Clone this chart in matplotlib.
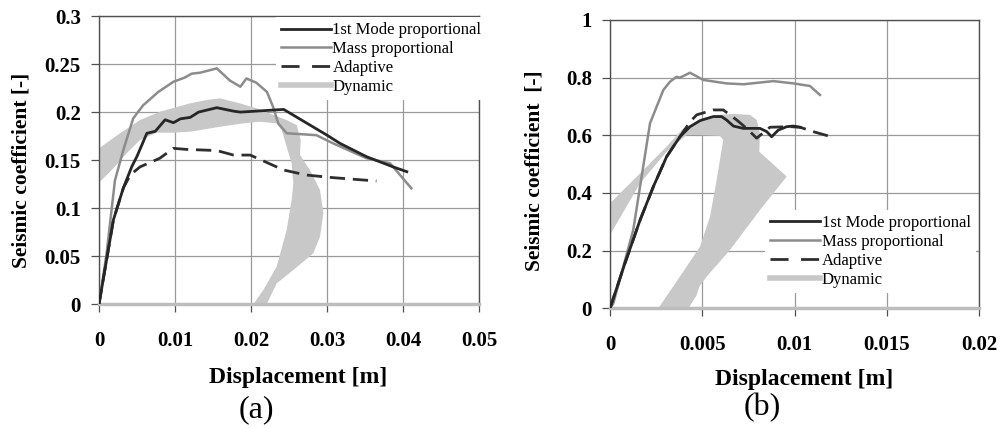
import numpy as np
import matplotlib
matplotlib.use('Agg')
import matplotlib.pyplot as plt

plt.rcParams['font.family'] = ['Liberation Serif', 'DejaVu Serif']

# ---- panel (a) data ----
mode_a_x = [0, 0.0019, 0.0032, 0.0043, 0.0050, 0.0063, 0.0074, 0.0087, 0.0098, 0.0107,
            0.0120, 0.0131, 0.0155, 0.0177, 0.0186, 0.0243, 0.0300, 0.0317, 0.0352, 0.0387, 0.0405]
mode_a_y = [0, 0.088, 0.121, 0.143, 0.154, 0.178, 0.180, 0.192, 0.189, 0.193,
            0.1945, 0.200, 0.2046, 0.201, 0.200, 0.2028, 0.176, 0.1675, 0.1536, 0.143, 0.138]

mass_a_x = [0, 0.0010, 0.0021, 0.0032, 0.0045, 0.0058, 0.0078, 0.0098, 0.0113, 0.0122, 0.0133,
            0.0155, 0.0172, 0.0186, 0.0194, 0.0207, 0.0221, 0.0229, 0.0236, 0.0247, 0.0286,
            0.0308, 0.0352, 0.0383, 0.0411]
mass_a_y = [0, 0.053, 0.129, 0.1605, 0.1935, 0.207, 0.221, 0.2316, 0.236, 0.240, 0.241,
            0.2455, 0.233, 0.2264, 0.235, 0.2306, 0.221, 0.2056, 0.188, 0.178, 0.176,
            0.1675, 0.152, 0.1467, 0.1207]

adapt_a_x = [0, 0.0019, 0.0032, 0.0041, 0.0054, 0.0080, 0.0098, 0.0115, 0.0155, 0.0177,
             0.0199, 0.0243, 0.0273, 0.0308, 0.0365]
adapt_a_y = [0, 0.088, 0.121, 0.1345, 0.143, 0.152, 0.1623, 0.1612, 0.160, 0.1553,
             0.1553, 0.1397, 0.1345, 0.1318, 0.1283]

dyn_a_x = [0, 0.00276, 0.00539, 0.00803, 0.01197, 0.01417, 0.01592, 0.01855, 0.02075, 0.02294,
           0.02469, 0.02601, 0.02654, 0.02645, 0.02776, 0.02908, 0.02952, 0.02908, 0.02820, 0.02557,
           0.02338, 0.02206,
           0.02031, 0.02162, 0.02338, 0.02469, 0.02535, 0.02557, 0.02535, 0.02469, 0.02404, 0.02338,
           0.02118, 0.01899, 0.01592, 0.01417, 0.01197, 0.00978, 0.00759, 0.00539, 0.00364, 0.00189, 0]
dyn_a_y = [0.1623, 0.1779, 0.1917, 0.2004, 0.2091, 0.2126, 0.2143, 0.2091, 0.2039, 0.1970,
           0.1917, 0.1865, 0.1709, 0.1553, 0.1397, 0.1189, 0.0947, 0.0704, 0.0531, 0.0357,
           0.0218, 0,
           0, 0.0149, 0.0392, 0.0773, 0.1085, 0.1259, 0.1467, 0.1640, 0.1813, 0.1883,
           0.1900, 0.1883, 0.1848, 0.1824, 0.1796, 0.1786, 0.1786, 0.1709, 0.1571, 0.1415, 0.1266]

# ---- panel (b) data ----
mode_b_x = [0, 0.00081, 0.00163, 0.00235, 0.00307, 0.00379, 0.00434, 0.00488, 0.00560, 0.00605,
            0.00632, 0.00669, 0.00723, 0.00813, 0.00849, 0.00876, 0.00912, 0.00958, 0.00994, 0.0103]
mode_b_y = [0, 0.156, 0.306, 0.422, 0.526, 0.595, 0.630, 0.651, 0.665, 0.665,
            0.653, 0.632, 0.624, 0.624, 0.613, 0.595, 0.618, 0.630, 0.632, 0.628]

mass_b_x = [0, 0.00018, 0.00126, 0.00217, 0.00289, 0.00325, 0.00361, 0.00379, 0.00434, 0.00506,
            0.00632, 0.00723, 0.00885, 0.00994, 0.01084, 0.01138]
mass_b_y = [0, 0.017, 0.272, 0.642, 0.757, 0.786, 0.803, 0.800, 0.817, 0.792,
            0.780, 0.777, 0.788, 0.780, 0.771, 0.740]

adapt_b_x = [0, 0.00081, 0.00163, 0.00235, 0.00307, 0.00379, 0.00434, 0.0047, 0.0056, 0.00614,
             0.00687, 0.00741, 0.00795, 0.00867, 0.00976, 0.0103, 0.0110, 0.0121]
adapt_b_y = [0, 0.156, 0.306, 0.422, 0.526, 0.595, 0.647, 0.671, 0.688, 0.688,
             0.653, 0.624, 0.590, 0.628, 0.630, 0.628, 0.613, 0.593]

dyn_b_x = [0, 0.00163, 0.00307, 0.00397, 0.00488, 0.00578, 0.00668, 0.00759, 0.00795, 0.00813,
           0.00809, 0.00849, 0.00958, 0.00813, 0.00650, 0.00524, 0.00484, 0.0047, 0.00425, 0.00262,
           0.00379, 0.00488, 0.00542, 0.00578, 0.00605, 0.00614, 0.00596, 0.00488, 0.00416, 0.00307,
           0.00163, 0]
dyn_b_y = [0.364, 0.468, 0.561, 0.624, 0.651, 0.671, 0.674, 0.671, 0.653, 0.607,
           0.543, 0.520, 0.457, 0.341, 0.202, 0.110, 0.075, 0.046, 0, 0,
           0.110, 0.214, 0.318, 0.445, 0.549, 0.584, 0.598, 0.601, 0.601, 0.543,
           0.434, 0.254]

xticks_a = [0, 0.01, 0.02, 0.03, 0.04, 0.05]
xlabels_a = ['0', '0.01', '0.02', '0.03', '0.04', '0.05']
yticks_a = [0, 0.05, 0.1, 0.15, 0.2, 0.25, 0.3]
ylabels_a = ['0', '0.05', '0.1', '0.15', '0.2', '0.25', '0.3']
xticks_b = [0, 0.005, 0.01, 0.015, 0.02]
xlabels_b = ['0', '0.005', '0.01', '0.015', '0.02']
yticks_b = [0, 0.2, 0.4, 0.6, 0.8, 1.0]
ylabels_b = ['0', '0.2', '0.4', '0.6', '0.8', '1']

c_mode = '#262626'
c_mass = '#8c8c8c'
c_adapt = '#2e2e2e'
c_dyn = '#c8c8c8'


def draw_panel(ax, dyn_x, dyn_y, mode, mass, adapt, xt, xl, yt, yl):
    ax.fill(dyn_x, dyn_y, color=c_dyn, lw=0, zorder=2)
    ax.plot(mode[0], mode[1], color=c_mode, lw=2, zorder=5, label='1st Mode proportional')
    ax.plot(mass[0], mass[1], color=c_mass, lw=1.8, zorder=4, label='Mass proportional')
    ax.plot(adapt[0], adapt[1], color=c_adapt, lw=2, dashes=(5.5, 2.8), zorder=4)
    # legend-only handles (longer dashes in the key, as in the original)
    ax.plot([], [], color=c_adapt, lw=2, dashes=(6.5, 4.5), label='Adaptive')
    ax.plot([], [], color=c_dyn, lw=4, label='Dynamic')
    ax.set_xlim(xt[0], xt[-1])
    ax.set_ylim(yt[0], yt[-1])
    ax.set_xticks(xt)
    ax.set_xticklabels(xl)
    ax.set_yticks(yt)
    ax.set_yticklabels(yl)
    ax.grid(True, color='#9a9a9a', lw=0.9)
    ax.set_axisbelow(True)
    for s in ax.spines.values():
        s.set_color('#505050')
        s.set_linewidth(1.0)
    ax.spines['bottom'].set_color('#bdbdbd')
    ax.spines['bottom'].set_linewidth(2.5)
    ax.tick_params(axis='x', length=6, width=0.9, color='#505050', pad=13,
                   labelsize=15)
    ax.tick_params(axis='y', length=6, width=0.9, color='#505050', pad=7,
                   labelsize=15)
    for lab in ax.get_xticklabels() + ax.get_yticklabels():
        lab.set_fontweight('bold')


fig = plt.figure(figsize=(10, 4.28), dpi=100)
ax1 = fig.add_axes([0.099, 0.289, 0.380, 0.6736])
ax2 = fig.add_axes([0.610, 0.2797, 0.369, 0.6736])

draw_panel(ax1, dyn_a_x, dyn_a_y, (mode_a_x, mode_a_y), (mass_a_x, mass_a_y),
           (adapt_a_x, adapt_a_y), xticks_a, xlabels_a, yticks_a, ylabels_a)
draw_panel(ax2, dyn_b_x, dyn_b_y, (mode_b_x, mode_b_y), (mass_b_x, mass_b_y),
           (adapt_b_x, adapt_b_y), xticks_b, xlabels_b, yticks_b, ylabels_b)

leg_kw = dict(fontsize=12, handlelength=3.0, handletextpad=0.1, labelspacing=0.17,
              borderpad=0.3, borderaxespad=0, frameon=True, fancybox=False,
              facecolor='white', edgecolor='none', framealpha=1)
l1 = ax1.legend(loc='upper left', bbox_to_anchor=(0.465, 0.995), **leg_kw)
l2 = ax2.legend(loc='upper left', bbox_to_anchor=(0.42, 0.34), **leg_kw)
for lg in (l1, l2):
    lg.set_zorder(6)

fig.text(0.022, 1 - 170 / 428, 'Seismic coefficient [-]', rotation=90, ha='center',
         va='center', fontsize=15.5, fontweight='bold')
fig.text(0.535, 1 - 171 / 428, 'Seismic coefficient  [-]', rotation=90, ha='center',
         va='center', fontsize=15.5, fontweight='bold')
fig.text(0.298, 1 - 377 / 428, 'Displacement [m]', ha='center', va='center',
         fontsize=17, fontweight='bold')
fig.text(0.804, 1 - 380 / 428, 'Displacement [m]', ha='center', va='center',
         fontsize=17, fontweight='bold')
fig.text(0.256, 1 - 410 / 428, '(a)', ha='center', va='center', fontsize=23)
fig.text(0.762, 1 - 408 / 428, '(b)', ha='center', va='center', fontsize=23)

fig.savefig('out.png', dpi=100)
